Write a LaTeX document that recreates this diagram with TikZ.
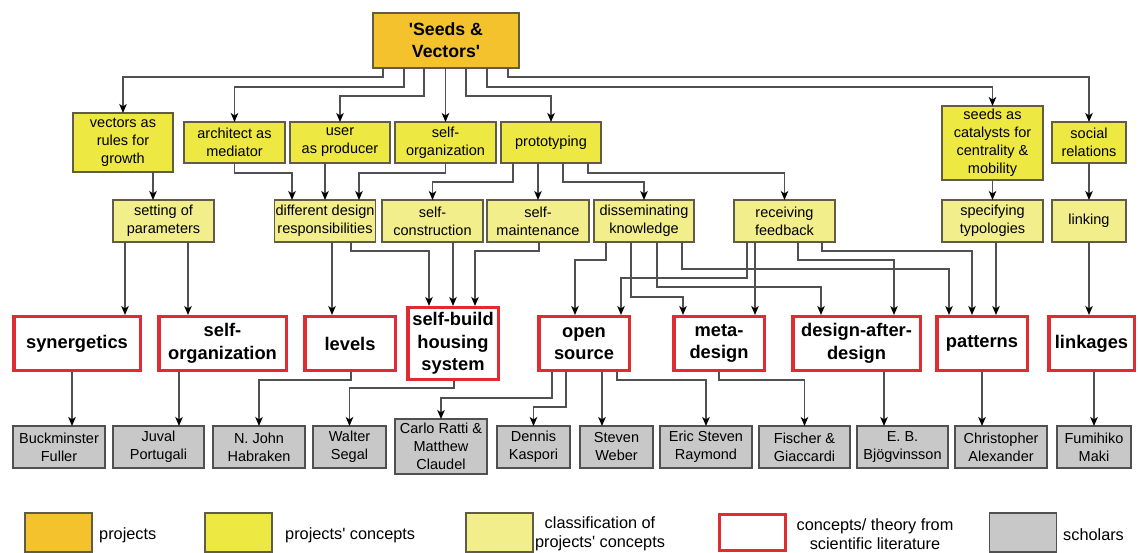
\documentclass[tikz,border=0pt]{standalone}
\usepackage{fontspec}
\setmainfont{Liberation Sans}[Ligatures=TeXOff]
\usetikzlibrary{arrows.meta}

\definecolor{projc}{RGB}{244,194,44}
\definecolor{concc}{RGB}{238,232,66}
\definecolor{clasc}{RGB}{242,238,140}
\definecolor{scholc}{RGB}{200,200,200}
\definecolor{redc}{RGB}{224,44,48}
\definecolor{edgec}{RGB}{96,92,70}
\definecolor{schedge}{RGB}{80,80,80}
\definecolor{linec}{RGB}{80,80,80}

\newcommand\fntA{\fontsize{14.5}{18}\selectfont}
\newcommand\fntB{\fontsize{18.3}{22.5}\selectfont\bfseries}
\newcommand\fntS{\fontsize{17.7}{22}\selectfont\bfseries}
\newcommand\fntL{\fontsize{16.3}{19}\selectfont}

\begin{document}
\begin{tikzpicture}[x=1pt,y=-1pt,
  box/.style={draw=edgec, line width=1.1pt, inner sep=1pt, outer sep=0pt, align=center, text=black},
  proj/.style={box, fill=projc, font=\fntS},
  conc/.style={box, fill=concc, font=\fntA},
  clas/.style={box, fill=clasc, font=\fntA},
  theo/.style={draw=redc, line width=3.5pt, fill=white, inner sep=1pt, outer sep=1.75pt, align=center, font=\fntB},
  schol/.style={box, draw=schedge, fill=scholc, font=\fntA},
  legtext/.style={font=\fntL, align=center, inner sep=0pt},
  arr/.style={draw=linec, line width=1.2pt, -{Stealth[length=9pt,width=7.5pt,inset=2.5pt,color=black]}}
]
\useasboundingbox (0,0) rectangle (1138,553);
\fill[white] (0,0) rectangle (1138,553);

% project
\node[proj, minimum width=146pt, minimum height=55pt] (sv) at (446,40.5) {'Seeds \&\\Vectors'};

% projects' concepts
\node[conc, minimum width=100pt, minimum height=59pt] (vec) at (123,142.5) {vectors as\\rules for\\growth};
\node[conc, minimum width=101pt, minimum height=41pt] (arch) at (234.5,142.5) {architect as\\mediator};
\node[conc, minimum width=100pt, minimum height=41pt] (user) at (340,142.5) {user\\as producer};
\node[conc, minimum width=101pt, minimum height=41pt] (sorg) at (445.5,142.5) {self-\\organization};
\node[conc, minimum width=100pt, minimum height=41pt] (proto) at (551,142.5) {prototyping};
\node[conc, minimum width=101pt, minimum height=74pt] (seed) at (992.5,143) {seeds as\\catalysts for\\centrality \&\\mobility};
\node[conc, minimum width=74pt, minimum height=41pt] (soc) at (1089,142.5) {social\\relations};

% classification of projects' concepts
\node[clas, minimum width=101pt, minimum height=42pt] (set) at (163.5,221) {setting of\\parameters};
\node[clas, minimum width=100pt, minimum height=42pt] (ddr) at (325,221) {different design\\responsibilities};
\node[clas, minimum width=101pt, minimum height=42pt] (scon) at (432.5,221) {self-\\construction};
\node[clas, minimum width=102pt, minimum height=42pt] (smain) at (538,221) {self-\\maintenance};
\node[clas, minimum width=100pt, minimum height=42pt] (diss) at (644,221) {disseminating\\knowledge};
\node[clas, minimum width=101pt, minimum height=42pt] (recv) at (784.5,221) {receiving\\feedback};
\node[clas, minimum width=101pt, minimum height=42pt] (spec) at (992.5,221) {specifying\\typologies};
\node[clas, minimum width=74pt, minimum height=42pt] (link) at (1089,221) {linking};

% concepts / theory from scientific literature
\node[theo, minimum width=126.5pt, minimum height=53.5pt] (syn) at (77,343.5) {synergetics};
\node[theo, minimum width=127.5pt, minimum height=53.5pt] (sorg2) at (222.5,343.5) {self-\\organization};
\node[theo, minimum width=90.5pt, minimum height=53.5pt] (lev) at (350,343.5) {levels};
\node[theo, minimum width=90.5pt, minimum height=71.5pt] (sbh) at (453,343.5) {self-build\\housing\\system};
\node[theo, minimum width=90.5pt, minimum height=53.5pt] (os) at (584,343.5) {open\\source};
\node[theo, minimum width=90.5pt, minimum height=53.5pt] (meta) at (719,343.5) {meta-\\design};
\node[theo, minimum width=127.5pt, minimum height=53.5pt] (dad) at (856.5,343.5) {design-after-\\design};
\node[theo, minimum width=90.5pt, minimum height=53.5pt] (pat) at (982,343.5) {patterns};
\node[theo, minimum width=85.5pt, minimum height=53.5pt] (lnk) at (1091.5,343.5) {linkages};

% scholars
\node[schol, minimum width=92pt, minimum height=42pt] (bf) at (59,447) {Buckminster\\Fuller};
\node[schol, minimum width=91pt, minimum height=42pt] (jp) at (158.5,447) {Juval\\Portugali};
\node[schol, minimum width=92pt, minimum height=42pt] (nj) at (259,447) {N. John\\Habraken};
\node[schol, minimum width=73pt, minimum height=42pt] (ws) at (349.5,447) {Walter\\Segal};
\node[schol, minimum width=92pt, minimum height=55pt] (cr) at (441,446.5) {Carlo Ratti \&\\Matthew\\Claudel};
\node[schol, minimum width=73pt, minimum height=42pt] (dk) at (533.5,447) {Dennis\\Kaspori};
\node[schol, minimum width=73pt, minimum height=42pt] (sw) at (616.5,447) {Steven\\Weber};
\node[schol, minimum width=92pt, minimum height=42pt] (esr) at (706,447) {Eric Steven\\Raymond};
\node[schol, minimum width=91pt, minimum height=42pt] (fg) at (804.5,447) {Fischer \&\\Giaccardi};
\node[schol, minimum width=91pt, minimum height=42pt] (eb) at (902.5,447) {E. B.\\Bjögvinsson};
\node[schol, minimum width=92pt, minimum height=42pt] (ca) at (1001,447) {Christopher\\Alexander};
\node[schol, minimum width=74pt, minimum height=42pt] (fm) at (1094,447) {Fumihiko\\Maki};

% project -> projects' concepts
\draw[arr] (sv.south -| 383,0) -- (383,77) -| (vec.north);
\draw[arr] (sv.south -| 404,0) -- (404,87) -| (arch.north);
\draw[arr] (sv.south -| 424,0) -- (424,96) -| (user.north);
\draw[arr] (sv.south -| 445.5,0) -- (sorg.north);
\draw[arr] (sv.south -| 466,0) -- (466,96) -| (proto.north);
\draw[arr] (sv.south -| 487,0) -- (487,87) -| (seed.north);
\draw[arr] (sv.south -| 508,0) -- (508,77) -| (soc.north);

% projects' concepts -> classification
\draw[arr] (vec.south -| 153,0) -- (set.north -| 153,0);
\draw[arr] (arch.south) -- (234.5,173) -| (ddr.north -| 292,0);
\draw[arr] (user.south -| 325,0) -- (ddr.north -| 325,0);
\draw[arr] (sorg.south) -- (445.5,173) -| (ddr.north -| 359,0);
\draw[arr] (proto.south -| 513,0) -- (513,182) -| (scon.north);
\draw[arr] (proto.south -| 538,0) -- (smain.north);
\draw[arr] (proto.south -| 563,0) -- (563,182) -| (diss.north);
\draw[arr] (proto.south -| 588,0) -- (588,173) -| (recv.north);
\draw[arr] (seed.south) -- (spec.north);
\draw[arr] (soc.south) -- (link.north);

% classification -> theory
\draw[arr] (set.south -| 125,0) -- (syn.north -| 125,0);
\draw[arr] (set.south -| 188,0) -- (sorg2.north -| 188,0);
\draw[arr] (ddr.south -| 332,0) -- (lev.north -| 332,0);
\draw[arr] (ddr.south -| 351,0) -- (351,251) -| (sbh.north -| 429,0);
\draw[arr] (scon.south -| 453,0) -- (sbh.north);
\draw[arr] (smain.south -| 539,0) -- (539,251) -| (sbh.north -| 475,0);
\draw[arr] (diss.south -| 606,0) -- (606,260) -| (os.north -| 575,0);
\draw[arr] (diss.south -| 631,0) -- (631,297) -| (meta.north -| 683,0);
\draw[arr] (diss.south -| 657,0) -- (657,287) -| (dad.north -| 821,0);
\draw[arr] (diss.south -| 682,0) -- (682,269) -| (pat.north -| 949,0);
\draw[arr] (recv.south -| 747,0) -- (747,278) -| (os.north -| 621,0);
\draw[arr] (recv.south -| 755,0) -- (meta.north -| 755,0);
\draw[arr] (recv.south -| 798,0) -- (798,260) -| (dad.north -| 894,0);
\draw[arr] (recv.south -| 822,0) -- (822,251) -| (pat.north -| 972,0);
\draw[arr] (spec.south -| 996,0) -- (pat.north -| 996,0);
\draw[arr] (link.south) -- (lnk.north -| 1089,0);

% theory -> scholars
\draw[arr] (syn.south -| 72,0) -- (bf.north -| 72,0);
\draw[arr] (sorg2.south -| 179,0) -- (jp.north -| 179,0);
\draw[arr] (lev.south -| 351,0) -- (351,380) -| (nj.north);
\draw[arr] (sbh.south -| 454,0) -- (454,388) -| (ws.north);
\draw[arr] (os.south -| 552,0) -- (552,398) -| (cr.north);
\draw[arr] (os.south -| 566,0) -- (566,407) -| (dk.north);
\draw[arr] (os.south -| 602,0) -- (sw.north -| 602,0);
\draw[arr] (os.south -| 617,0) -- (617,380) -| (esr.north);
\draw[arr] (meta.south -| 719,0) -- (719,380) -| (fg.north);
\draw[arr] (dad.south -| 884,0) -- (eb.north -| 884,0);
\draw[arr] (pat.south -| 982,0) -- (ca.north -| 982,0);
\draw[arr] (lnk.south -| 1094,0) -- (fm.north);

% legend
\node[box, fill=projc, minimum width=67pt, minimum height=39pt] (k1) at (58.5,532.5) {};
\node[legtext, anchor=west] (t1) at (99,535) {projects};
\node[box, fill=concc, minimum width=67pt, minimum height=39pt] (k2) at (238.5,532.5) {};
\node[legtext, anchor=west] (t2) at (285,535) {projects' concepts};
\node[box, fill=clasc, minimum width=67pt, minimum height=39pt] (k3) at (499.5,532.5) {};
\node[legtext] (t3) at (600,534) {classification of\\projects' concepts};
\node[draw=redc, line width=3.5pt, fill=white, inner sep=0pt, minimum width=66pt, minimum height=36pt] (k4) at (752.5,532.5) {};
\node[legtext] (t4) at (875,534) {concepts/ theory from\\scientific literature};
\node[box, draw=schedge, fill=scholc, minimum width=67pt, minimum height=39pt] (k5) at (1023,532.5) {};
\node[legtext, anchor=west] (t5) at (1063,535) {scholars};
\end{tikzpicture}
\end{document}
